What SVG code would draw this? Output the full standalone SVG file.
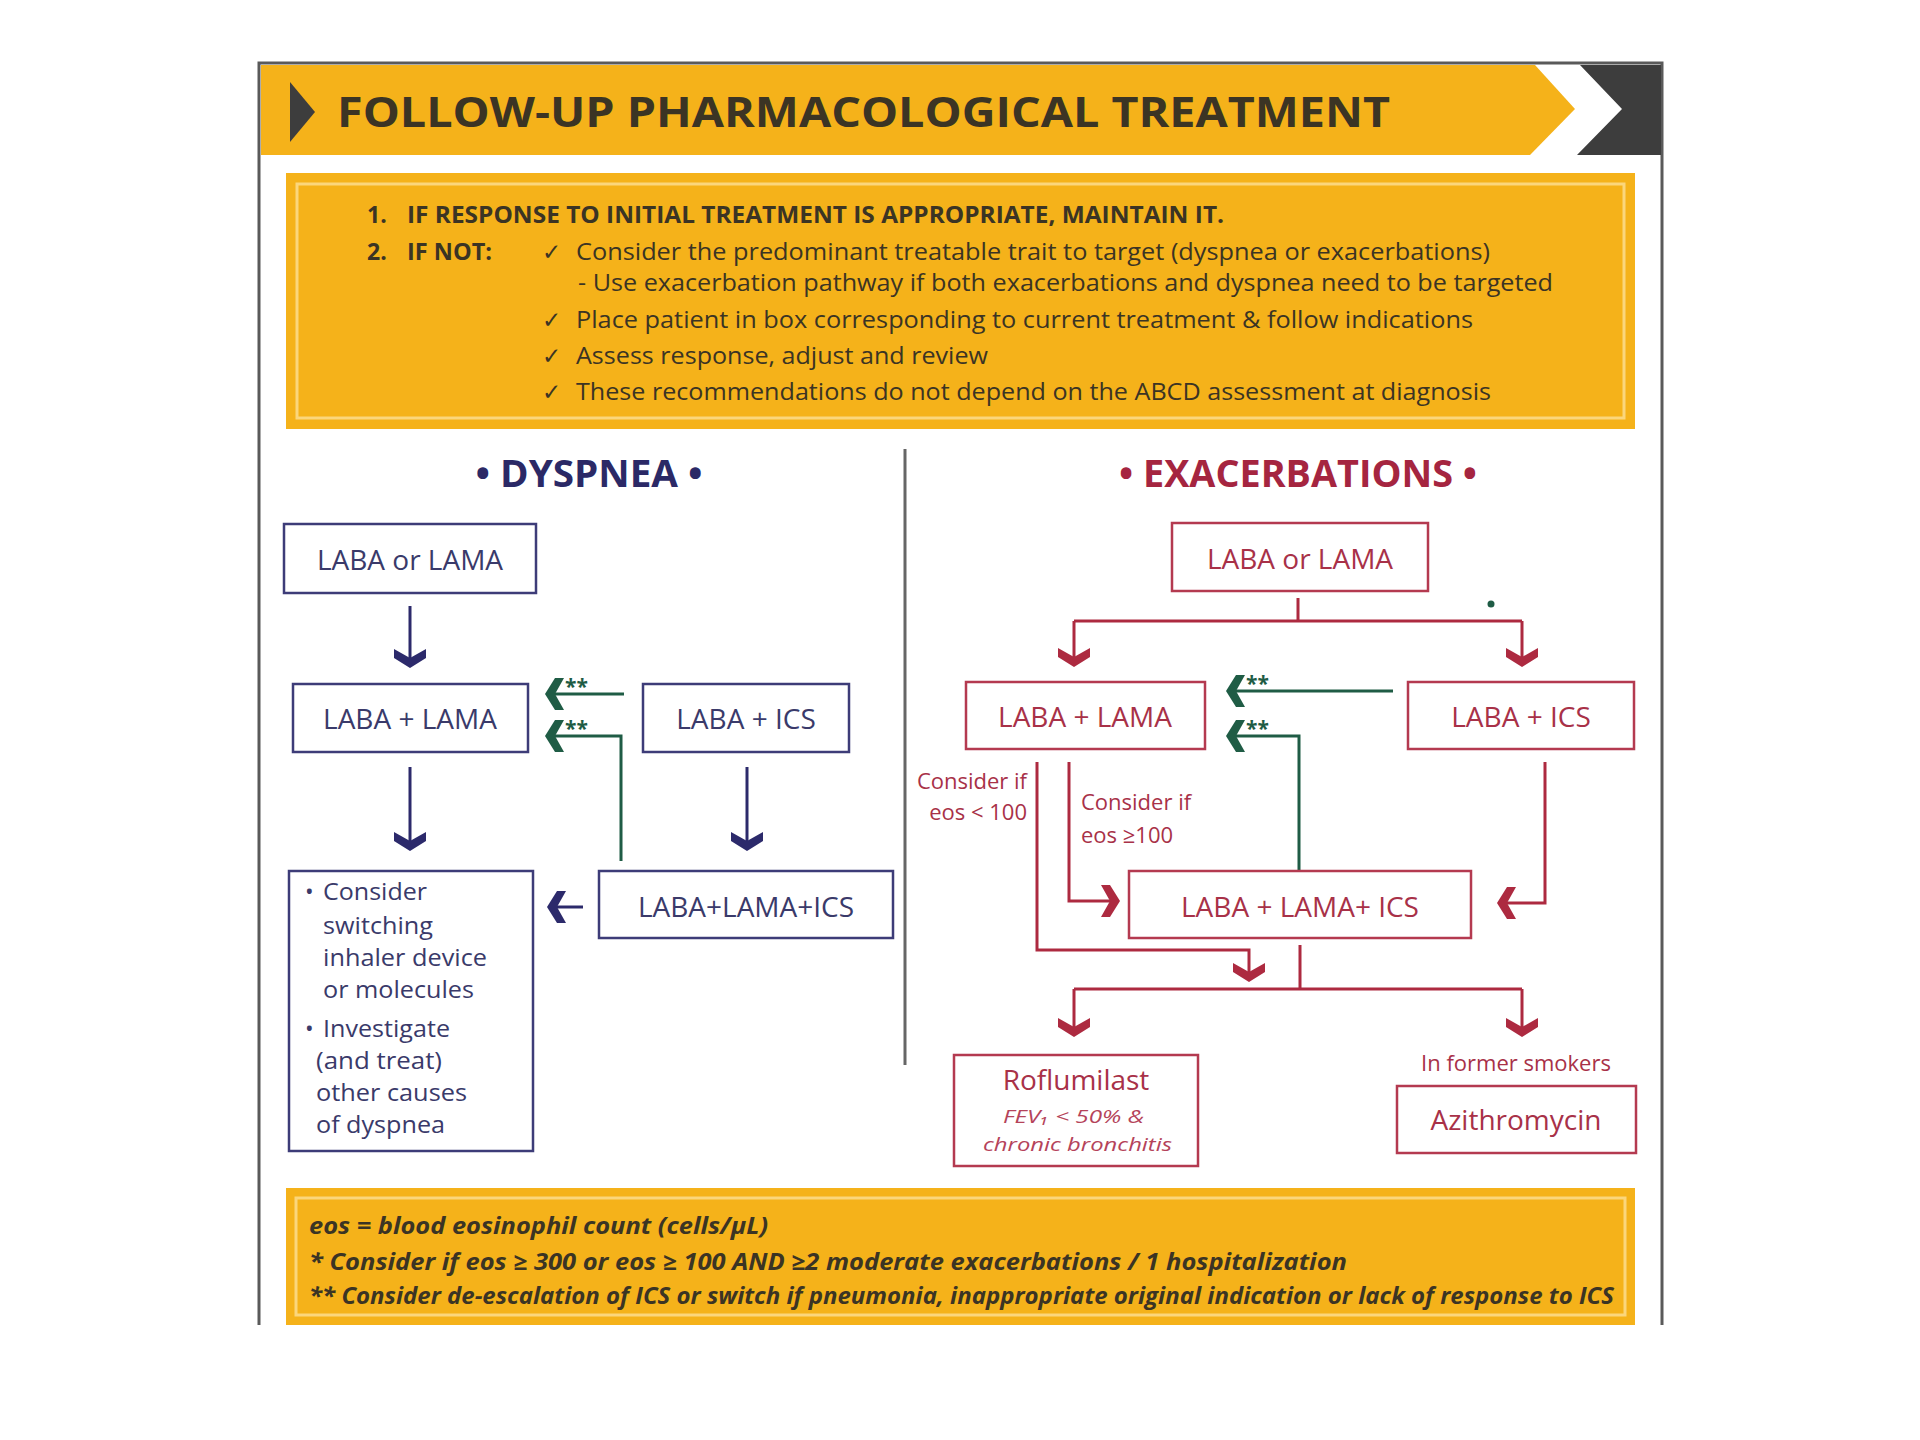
<svg xmlns="http://www.w3.org/2000/svg" width="1920" height="1440" viewBox="0 0 1920 1440">
<style>
text{font-family:"Open Sans","Liberation Sans",sans-serif}
.title{font-size:42px;font-weight:700;fill:#3b3424}
.ins{font-size:23px;fill:#3b3424}
.insb{font-size:23px;font-weight:700;fill:#3b3424}
.foot{font-size:23px;font-weight:700;font-style:italic;fill:#3b3424}
.nbox{fill:#fff;stroke:#3d3c78;stroke-width:2.5}
.rbox{fill:#fff;stroke:#b43a50;stroke-width:2.5}
.nt{font-size:28px;fill:#3a3a6a;text-anchor:middle}
.ntl{font-size:23px;fill:#3a3a6a}
.rt{font-size:28px;fill:#a83148;text-anchor:middle}
.rs{font-size:22px;fill:#a83148}
.ri{font-size:19px;font-style:italic;fill:#b5435a}
.nl{fill:none;stroke:#2c2a6b;stroke-width:3}
.rl{fill:none;stroke:#ad2a40;stroke-width:3}
.gl{fill:none;stroke:#1f5c45;stroke-width:3}
.star{font-size:21px;font-weight:700;fill:#1f5c45}
.yb{fill:#f5b21a}
.yi{fill:none;stroke:#fbd67c;stroke-width:3}
</style>
<defs>
<path id="chev" d="M-16,-19 L0,-10 L16,-19 L16,-10 L0,0 L-16,-10 Z"/>
</defs>
<rect x="0" y="0" width="1920" height="1440" fill="#fff"/>
<!-- frame -->
<path d="M259,1325 V63 H1662 V1325" fill="none" stroke="#5a5a5a" stroke-width="3"/>
<!-- header -->
<g id="header">
<polygon points="261,65 1535,65 1575,109 1530,155 261,155" fill="#f5b21a"/>
<polygon points="1580,65 1661,65 1661,155 1577,155 1622,109" fill="#3d3d3d"/>
<polygon points="290,82 315,112 290,142" fill="#3d3d3d"/>
<text class="title" x="337" y="127" textLength="1053" lengthAdjust="spacingAndGlyphs">FOLLOW-UP PHARMACOLOGICAL TREATMENT</text>
</g>
<!-- instructions -->
<g id="instructions">
<rect class="yb" x="286" y="173" width="1349" height="256"/>
<rect class="yi" x="297" y="184" width="1327" height="234"/>
<text class="insb" x="367" y="223">1.</text>
<text class="insb" x="407" y="223" textLength="817" lengthAdjust="spacingAndGlyphs">IF RESPONSE TO INITIAL TREATMENT IS APPROPRIATE, MAINTAIN IT.</text>
<text class="insb" x="367" y="260">2.</text>
<text class="insb" x="407" y="260" textLength="85" lengthAdjust="spacingAndGlyphs">IF NOT:</text>
<text class="ins" x="542" y="260">✓</text>
<text class="ins" x="576" y="260" textLength="914" lengthAdjust="spacingAndGlyphs">Consider the predominant treatable trait to target (dyspnea or exacerbations)</text>
<text class="ins" x="578" y="291" textLength="975" lengthAdjust="spacingAndGlyphs">- Use exacerbation pathway if both exacerbations and dyspnea need to be targeted</text>
<text class="ins" x="542" y="328">✓</text>
<text class="ins" x="576" y="328" textLength="897" lengthAdjust="spacingAndGlyphs">Place patient in box corresponding to current treatment &amp; follow indications</text>
<text class="ins" x="542" y="364">✓</text>
<text class="ins" x="576" y="364" textLength="412" lengthAdjust="spacingAndGlyphs">Assess response, adjust and review</text>
<text class="ins" x="542" y="400">✓</text>
<text class="ins" x="576" y="400" textLength="915" lengthAdjust="spacingAndGlyphs">These recommendations do not depend on the ABCD assessment at diagnosis</text>
</g>
<!-- divider -->
<line x1="905" y1="449" x2="905" y2="1065" stroke="#666" stroke-width="3"/>
<!-- section headings -->
<g id="head-dyspnea"><text x="589" y="487" font-size="37" font-weight="700" fill="#2b2966" text-anchor="middle" textLength="227" lengthAdjust="spacingAndGlyphs">• DYSPNEA •</text></g>
<g id="head-exac"><text x="1298" y="487" font-size="37" font-weight="700" fill="#a52540" text-anchor="middle" textLength="358" lengthAdjust="spacingAndGlyphs">• EXACERBATIONS •</text></g>
<!-- connectors -->
<g id="connectors">
<!-- dyspnea navy -->
<path class="nl" d="M410,606 V658"/>
<use href="#chev" fill="#2c2a6b" transform="translate(410,668)"/>
<path class="nl" d="M410,767 V841"/>
<use href="#chev" fill="#2c2a6b" transform="translate(410,851)"/>
<path class="nl" d="M747,767 V841"/>
<use href="#chev" fill="#2c2a6b" transform="translate(747,851)"/>
<path class="nl" d="M556,907 H583"/>
<use href="#chev" fill="#2c2a6b" transform="translate(547,907) rotate(90)"/>
<!-- dyspnea green -->
<path class="gl" d="M555,694 H624"/>
<use href="#chev" fill="#1f5c45" transform="translate(545,694) rotate(90)"/>
<text class="star" x="565" y="694">**</text>
<path class="gl" d="M555,736 H621 V861"/>
<use href="#chev" fill="#1f5c45" transform="translate(545,736) rotate(90)"/>
<text class="star" x="565" y="736">**</text>
<!-- exacerbations red -->
<path class="rl" d="M1298,598 V621 M1074,621 H1522 M1074,621 V657 M1522,621 V657"/>
<use href="#chev" fill="#ad2a40" transform="translate(1074,667)"/>
<use href="#chev" fill="#ad2a40" transform="translate(1522,667)"/>
<circle cx="1491" cy="604" r="3.5" fill="#1f5c45"/>
<path class="gl" d="M1236,691 H1393"/>
<use href="#chev" fill="#1f5c45" transform="translate(1226,691) rotate(90)"/>
<text class="star" x="1246" y="691">**</text>
<path class="gl" d="M1236,736 H1299 V871"/>
<use href="#chev" fill="#1f5c45" transform="translate(1226,736) rotate(90)"/>
<text class="star" x="1246" y="736">**</text>
<path class="rl" d="M1037,762 V950 H1249 V972"/>
<use href="#chev" fill="#ad2a40" transform="translate(1249,982)"/>
<path class="rl" d="M1069,762 V901 H1110"/>
<use href="#chev" fill="#ad2a40" transform="translate(1120,901) rotate(-90)"/>
<path class="rl" d="M1545,762 V903 H1507"/>
<use href="#chev" fill="#ad2a40" transform="translate(1497,903) rotate(90)"/>
<path class="rl" d="M1300,945 V989 M1074,989 H1522 M1074,989 V1027 M1522,989 V1027"/>
<use href="#chev" fill="#ad2a40" transform="translate(1074,1037)"/>
<use href="#chev" fill="#ad2a40" transform="translate(1522,1037)"/>
<text class="rs" x="1027" y="789" text-anchor="end">Consider if</text>
<text class="rs" x="1027" y="820" text-anchor="end">eos &lt; 100</text>
<text class="rs" x="1081" y="810">Consider if</text>
<text class="rs" x="1081" y="843">eos ≥100</text>
<text class="rs" x="1516" y="1071" text-anchor="middle" font-size="23">In former smokers</text>
</g>
<!-- dyspnea nodes -->
<g id="d-laba-or-lama"><rect class="nbox" x="284" y="524" width="252" height="69"/><text class="nt" x="410" y="570">LABA or LAMA</text></g>
<g id="d-laba-lama"><rect class="nbox" x="293" y="684" width="235" height="68"/><text class="nt" x="410" y="729">LABA + LAMA</text></g>
<g id="d-laba-ics"><rect class="nbox" x="643" y="684" width="206" height="68"/><text class="nt" x="746" y="729">LABA + ICS</text></g>
<g id="d-triple"><rect class="nbox" x="599" y="871" width="294" height="67"/><text class="nt" x="746" y="917">LABA+LAMA+ICS</text></g>
<g id="d-consider"><rect class="nbox" x="289" y="871" width="244" height="280"/>
<text class="ntl" x="305" y="900">•<tspan x="323" textLength="104" lengthAdjust="spacingAndGlyphs">Consider</tspan></text>
<text class="ntl" x="323" y="934" textLength="110" lengthAdjust="spacingAndGlyphs">switching</text>
<text class="ntl" x="323" y="966" textLength="164" lengthAdjust="spacingAndGlyphs">inhaler device</text>
<text class="ntl" x="323" y="998" textLength="151" lengthAdjust="spacingAndGlyphs">or molecules</text>
<text class="ntl" x="305" y="1037">•<tspan x="323" textLength="127" lengthAdjust="spacingAndGlyphs">Investigate</tspan></text>
<text class="ntl" x="316" y="1069" textLength="126" lengthAdjust="spacingAndGlyphs">(and treat)</text>
<text class="ntl" x="316" y="1101" textLength="151" lengthAdjust="spacingAndGlyphs">other causes</text>
<text class="ntl" x="316" y="1133" textLength="129" lengthAdjust="spacingAndGlyphs">of dyspnea</text>
</g>
<!-- exacerbation nodes -->
<g id="e-laba-or-lama"><rect class="rbox" x="1172" y="523" width="256" height="68"/><text class="rt" x="1300" y="569">LABA or LAMA</text></g>
<g id="e-laba-lama"><rect class="rbox" x="966" y="682" width="239" height="67"/><text class="rt" x="1085" y="727">LABA + LAMA</text></g>
<g id="e-laba-ics"><rect class="rbox" x="1408" y="682" width="226" height="67"/><text class="rt" x="1521" y="727">LABA + ICS</text></g>
<g id="e-triple"><rect class="rbox" x="1129" y="871" width="342" height="67"/><text class="rt" x="1300" y="917">LABA + LAMA+ ICS</text></g>
<g id="e-roflumilast"><rect class="rbox" x="954" y="1055" width="244" height="111"/>
<text class="rt" x="1076" y="1090">Roflumilast</text>
<text class="ri" x="1003" y="1123" textLength="141" lengthAdjust="spacingAndGlyphs">FEV₁ &lt; 50% &amp;</text>
<text class="ri" x="983" y="1151" textLength="189" lengthAdjust="spacingAndGlyphs">chronic bronchitis</text>
</g>
<g id="e-azithro"><rect class="rbox" x="1397" y="1086" width="239" height="67"/><text class="rt" x="1516" y="1130">Azithromycin</text></g>
<!-- footer -->
<g id="footer">
<rect class="yb" x="286" y="1188" width="1349" height="137"/>
<rect class="yi" x="296" y="1198" width="1329" height="117"/>
<text class="foot" x="309" y="1234" textLength="459" lengthAdjust="spacingAndGlyphs">eos = blood eosinophil count (cells/μL)</text>
<text class="foot" x="309" y="1270" textLength="1038" lengthAdjust="spacingAndGlyphs">* Consider if eos ≥ 300 or eos ≥ 100 AND ≥2 moderate exacerbations / 1 hospitalization</text>
<text class="foot" x="309" y="1304" textLength="1305" lengthAdjust="spacingAndGlyphs">** Consider de-escalation of ICS or switch if pneumonia, inappropriate original indication or lack of response to ICS</text>
</g>
</svg>
